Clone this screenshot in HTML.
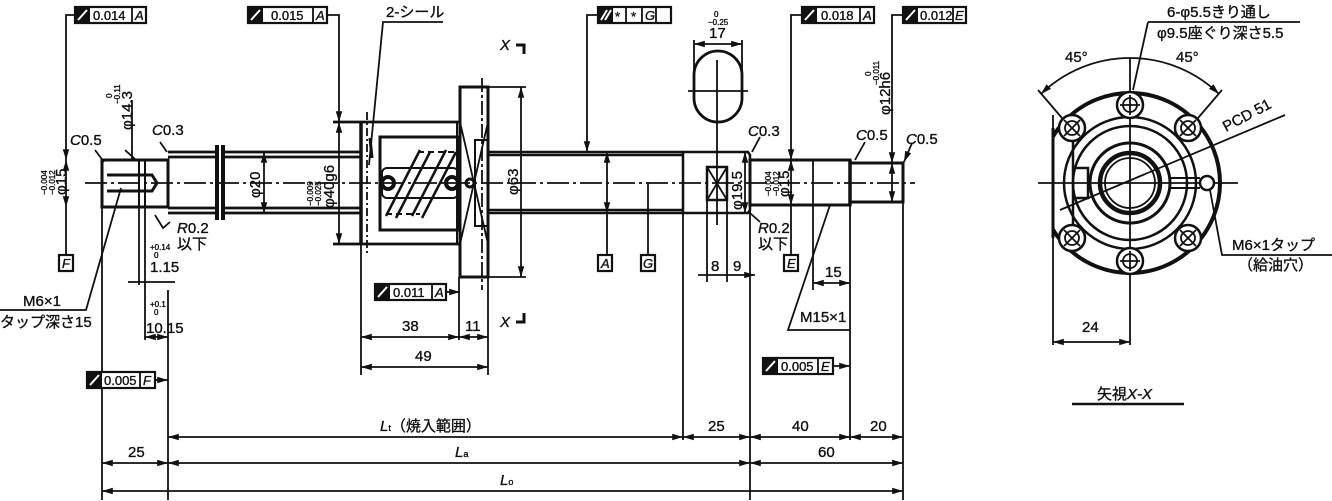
<!DOCTYPE html>
<html><head><meta charset="utf-8"><style>
body{margin:0;background:#fff}
svg{display:block}
text{font-family:"Liberation Sans","Noto Sans CJK JP",sans-serif;fill:#111;stroke:#111;stroke-width:0.35}
</style></head><body>
<svg width="1332" height="501" viewBox="0 0 1332 501" xmlns="http://www.w3.org/2000/svg">
<defs>
<marker id="a" viewBox="0 0 10 10" refX="10" refY="5" markerWidth="6" markerHeight="6" orient="auto-start-reverse"><path d="M0,2L10,5L0,8z" fill="#111"/></marker>
<clipPath id="cf"><rect x="1053" y="0" width="300" height="400"/></clipPath>
</defs>
<g stroke="#111" stroke-width="1.8" fill="none">
<line x1="85" y1="183" x2="915" y2="183" stroke-dasharray="22,4,3,4"/>
<rect x="102" y="160" width="66" height="47" stroke-width="3"/>
<line x1="139" y1="160" x2="139" y2="207" stroke-width="2"/>
<line x1="145" y1="160" x2="145" y2="207" stroke-width="2"/>
<path d="M107,175H152L157,183L152,191H107" stroke-width="3"/>
<path d="M168,152H216M168,157H216M168,208H216M168,213H216" stroke-width="2.8"/>
<path d="M224,152H361M224,157H361M224,208H361M224,213H361" stroke-width="2.8"/>
<path d="M216,145V220M218,145V220M222,145V220M224,145V220" stroke-width="2"/>
<path d="M333,122H460M333,244H460" stroke-width="2.8"/>
<line x1="361" y1="122" x2="361" y2="244" stroke-width="3.5"/>
<line x1="367" y1="112" x2="367" y2="255" stroke-dasharray="8,3,2,3"/>
<path d="M370,138L372,158" stroke-width="3"/>
<rect x="380" y="137" width="78" height="93" stroke-width="3"/>
<rect x="382" y="168" width="76" height="30" rx="5" stroke-width="2"/>
<line x1="457" y1="122" x2="457" y2="244" stroke-width="2"/>
<path d="M386,216L420,150M396,218L430,152M412,216L446,150M422,218L456,152" stroke-width="2.5"/>
<path d="M418,152H456M386,214H420" stroke-width="2" stroke-dasharray="6,4"/>
<circle cx="388" cy="183" r="6" stroke-width="4"/><circle cx="452" cy="183" r="6" stroke-width="4"/><circle cx="470" cy="183" r="4" stroke-width="3"/>
<rect x="460" y="87" width="28" height="190" stroke-width="3"/>
<path d="M460,122L488,244M460,244L488,122"/>
<path d="M475,140H488V226H475Z" stroke-width="2"/>
<line x1="482" y1="78" x2="482" y2="290" stroke-dasharray="14,3,3,3"/>
<line x1="488" y1="87" x2="526" y2="87"/><line x1="488" y1="277" x2="526" y2="277"/>
<line x1="521" y1="87" x2="521" y2="277" marker-start="url(#a)" marker-end="url(#a)"/>
<path d="M488,152H683M488,155H683M488,210H683M488,213H683" stroke-width="2.5"/>
<path d="M683,152H748L750,155V210L748,213H683Z" stroke-width="2.5"/>
<line x1="683" y1="152" x2="683" y2="440"/>
<rect x="707" y="167" width="20" height="33" stroke-width="2.5"/>
<path d="M707,167L727,200M727,167L707,200"/>
<line x1="717" y1="120" x2="717" y2="225"/>
<path d="M750,160H850V205H750Z" stroke-width="3"/>
<line x1="813" y1="160" x2="813" y2="290"/>
<line x1="850" y1="160" x2="850" y2="205" stroke-width="3.5"/>
<path d="M850,163H903V202H850Z" stroke-width="3"/>
<path d="M694,75A24,24 0 0 1 742,75V98A24,24 0 0 1 694,98Z" stroke-width="2.8"/>
<line x1="688" y1="91" x2="748" y2="91"/><line x1="717" y1="60" x2="717" y2="120"/>
<line x1="694" y1="40" x2="694" y2="70"/><line x1="742" y1="40" x2="742" y2="70"/>
<line x1="694" y1="44" x2="742" y2="44" marker-start="url(#a)" marker-end="url(#a)"/>
<path d="M75,15H66V160" marker-end="url(#a)"/>
<line x1="66" y1="160" x2="66" y2="207" marker-start="url(#a)" marker-end="url(#a)"/>
<line x1="66" y1="207" x2="66" y2="255"/>
<path d="M327,15H339V122" marker-end="url(#a)"/>
<line x1="339" y1="122" x2="339" y2="244" marker-start="url(#a)" marker-end="url(#a)"/>
<path d="M598,15H587V152" marker-end="url(#a)"/>
<line x1="607" y1="152" x2="607" y2="213" marker-start="url(#a)" marker-end="url(#a)"/>
<line x1="607" y1="213" x2="607" y2="255"/>
<line x1="648" y1="183" x2="648" y2="255"/>
<path d="M802,15H791V160" marker-end="url(#a)"/>
<line x1="791" y1="160" x2="791" y2="205" marker-start="url(#a)" marker-end="url(#a)"/>
<line x1="791" y1="205" x2="791" y2="255"/>
<path d="M903,15H892V163" marker-end="url(#a)"/>
<line x1="892" y1="163" x2="892" y2="202" marker-start="url(#a)" marker-end="url(#a)"/>
<line x1="264" y1="152" x2="264" y2="213" marker-start="url(#a)" marker-end="url(#a)"/>
<line x1="745" y1="152" x2="745" y2="213" marker-start="url(#a)" marker-end="url(#a)"/>
<line x1="446" y1="292" x2="460" y2="292" marker-end="url(#a)"/>
<line x1="833" y1="366" x2="850" y2="366" marker-end="url(#a)"/>
<line x1="155" y1="380" x2="168" y2="380" marker-end="url(#a)"/>
<path d="M443,22H383L369,165"/>
<path d="M0,310H86L121,188"/>
<path d="M850,330H788L830,205"/>
<path d="M95,150L104,162M125,150L136,160M160,142L167,152M132,100V160M760,137L752,152M865,142L855,160M912,143L904,162" marker-end="url(#a)"/>
<path d="M155,215L163,228L170,222M750,213L760,222"/>
<line x1="139" y1="207" x2="139" y2="285"/><line x1="145" y1="207" x2="145" y2="340"/>
<line x1="128" y1="282" x2="175" y2="282"/>
<line x1="168" y1="290" x2="168" y2="500"/>
<line x1="145" y1="337" x2="168" y2="337" marker-start="url(#a)" marker-end="url(#a)"/>
<line x1="102" y1="207" x2="102" y2="500"/>
<line x1="361" y1="244" x2="361" y2="375"/>
<line x1="459" y1="277" x2="459" y2="340"/><line x1="488" y1="277" x2="488" y2="375"/>
<line x1="361" y1="337" x2="459" y2="337" marker-start="url(#a)" marker-end="url(#a)"/>
<line x1="459" y1="337" x2="488" y2="337" marker-start="url(#a)" marker-end="url(#a)"/>
<line x1="361" y1="367" x2="488" y2="367" marker-start="url(#a)" marker-end="url(#a)"/>
<line x1="707" y1="200" x2="707" y2="282"/><line x1="727" y1="200" x2="727" y2="282"/>
<line x1="698" y1="275" x2="755" y2="275" marker-end="url(#a)"/>
<line x1="750" y1="205" x2="750" y2="500"/><line x1="850" y1="205" x2="850" y2="440"/>
<line x1="903" y1="202" x2="903" y2="500"/>
<line x1="813" y1="283" x2="850" y2="283" marker-start="url(#a)" marker-end="url(#a)"/>
<line x1="168" y1="437" x2="683" y2="437" marker-start="url(#a)" marker-end="url(#a)"/>
<line x1="683" y1="437" x2="750" y2="437" marker-start="url(#a)" marker-end="url(#a)"/>
<line x1="750" y1="437" x2="850" y2="437" marker-start="url(#a)" marker-end="url(#a)"/>
<line x1="850" y1="437" x2="903" y2="437" marker-start="url(#a)" marker-end="url(#a)"/>
<line x1="102" y1="463" x2="168" y2="463" marker-start="url(#a)" marker-end="url(#a)"/>
<line x1="168" y1="463" x2="750" y2="463" marker-start="url(#a)" marker-end="url(#a)"/>
<line x1="750" y1="463" x2="903" y2="463" marker-start="url(#a)" marker-end="url(#a)"/>
<line x1="102" y1="491" x2="903" y2="491" marker-start="url(#a)" marker-end="url(#a)"/>
<path d="M516,45H524V54M516,322H524V313" stroke-width="3"/>
<circle cx="1130" cy="183" r="90" stroke-width="4" clip-path="url(#cf)"/>
<path d="M1053,128V238" stroke-width="3"/>
<circle cx="1130" cy="183" r="66" stroke-width="2.5"/>
<circle cx="1130" cy="183" r="57" stroke-width="2.5" clip-path="url(#cf)"/>
<path d="M1073,140V226M1075,168H1088V198H1075" stroke-width="2.5"/>
<circle cx="1130" cy="183" r="40" stroke-width="3"/>
<circle cx="1130" cy="183" r="30" stroke-width="4.5"/>
<circle cx="1130" cy="183" r="25" stroke-width="1.8"/>
<line x1="1038" y1="183" x2="1238" y2="183"/>
<path d="M1170,178H1200M1170,188H1200" stroke-width="2"/>
<line x1="1130" y1="58" x2="1130" y2="345"/>
<line x1="1053" y1="115" x2="1053" y2="345"/>
<line x1="1053" y1="342" x2="1130" y2="342" marker-start="url(#a)" marker-end="url(#a)"/>
<line x1="1060" y1="210" x2="1285" y2="115"/>
<path d="M1041,94A128,128 0 0 1 1219,94" marker-start="url(#a)" marker-end="url(#a)"/>
<path d="M1038,90L1062,118M1222,90L1198,118"/>
<path d="M1148,22L1133,90" /><line x1="1148" y1="22" x2="1300" y2="22"/>
<path d="M1210,190L1222,255H1332"/>
<line x1="1072" y1="404" x2="1184" y2="404" stroke-width="2.5"/>
</g>
<g stroke="#111" stroke-width="2.5" fill="#fff">
<circle cx="1130" cy="105" r="13"/><circle cx="1130" cy="261" r="13"/>
<circle cx="1072" cy="128" r="13"/><circle cx="1188" cy="128" r="13"/>
<circle cx="1072" cy="238" r="13"/><circle cx="1188" cy="238" r="13"/>
<circle cx="1207" cy="183" r="7"/>
</g>
<g stroke="#111" stroke-width="1.8" fill="none">
<circle cx="1130" cy="105" r="7"/><circle cx="1130" cy="261" r="7"/>
<circle cx="1072" cy="128" r="7"/><circle cx="1188" cy="128" r="7"/>
<circle cx="1072" cy="238" r="7"/><circle cx="1188" cy="238" r="7"/>
<path d="M1120,105H1140M1130,95V115M1120,261H1140M1130,251V271M1064,120L1080,136M1064,136L1080,120M1180,120L1196,136M1180,136L1196,120M1064,230L1080,246M1064,246L1080,230M1180,230L1196,246M1180,246L1196,230"/>
</g>
<g stroke="#111" stroke-width="2.2" fill="#fff">
<rect x="75" y="7" width="71" height="16"/><rect x="248" y="7" width="79" height="16"/>
<rect x="598" y="7" width="73" height="16"/><rect x="802" y="7" width="72" height="16"/>
<rect x="903" y="7" width="63" height="16"/><rect x="375" y="284" width="71" height="16"/>
<rect x="763" y="358" width="70" height="16"/><rect x="87" y="372" width="68" height="16"/>
<rect x="59" y="255" width="14" height="16"/><rect x="598" y="255" width="14" height="16"/>
<rect x="641" y="255" width="14" height="16"/><rect x="784" y="255" width="14" height="16"/>
</g>
<g fill="#111">
<rect x="75" y="7" width="15" height="16"/><rect x="248" y="7" width="15" height="16"/><rect x="598" y="7" width="15" height="16"/>
<rect x="802" y="7" width="15" height="16"/><rect x="903" y="7" width="15" height="16"/><rect x="375" y="284" width="15" height="16"/>
<rect x="763" y="358" width="15" height="16"/><rect x="87" y="372" width="15" height="16"/>
</g>
<g stroke="#fff" stroke-width="2">
<path d="M78,20L87,10M251,20L260,10M601,20L607,10M605,20L611,10M805,20L814,10M906,20L915,10M378,297L387,287M766,371L775,361M90,385L99,375"/>
</g>
<g stroke="#111" stroke-width="1.8">
<path d="M132,7V23M313,7V23M626,7V23M642,7V23M656,7V23M860,7V23M953,7V23M432,284V300M818,358V374M140,372V388"/>
</g>
<g font-size="13">
<text x="93" y="20">0.014</text><text x="135" y="20" font-style="italic">A</text>
<text x="271" y="20">0.015</text><text x="316" y="20" font-style="italic">A</text>
<text x="615" y="21">*</text><text x="631" y="21">*</text><text x="645" y="20" font-style="italic">G</text>
<text x="821" y="20">0.018</text><text x="863" y="20" font-style="italic">A</text>
<text x="920" y="20">0.012</text><text x="955" y="20" font-style="italic">E</text>
<text x="393" y="297">0.011</text><text x="435" y="297" font-style="italic">A</text>
<text x="781" y="371">0.005</text><text x="821" y="371" font-style="italic">E</text>
<text x="104" y="385">0.005</text><text x="143" y="385" font-style="italic">F</text>
<text x="62" y="268" font-style="italic">F</text><text x="601" y="268" font-style="italic">A</text>
<text x="643" y="268" font-style="italic">G</text><text x="787" y="268" font-style="italic">E</text>
</g>
<g font-size="15">
<text x="386" y="17">2-シール</text>
<text x="70" y="145"><tspan font-style="italic">C</tspan>0.5</text>
<text x="152" y="135"><tspan font-style="italic">C</tspan>0.3</text>
<text x="748" y="136"><tspan font-style="italic">C</tspan>0.3</text>
<text x="856" y="140"><tspan font-style="italic">C</tspan>0.5</text>
<text x="906" y="144"><tspan font-style="italic">C</tspan>0.5</text>
<text x="177" y="233"><tspan font-style="italic">R</tspan>0.2</text><text x="177" y="249">以下</text>
<text x="758" y="233"><tspan font-style="italic">R</tspan>0.2</text><text x="758" y="249">以下</text>
<text x="150" y="272">1.15</text><text x="146" y="333">10.15</text>
<text x="23" y="306">M6×1</text><text x="0" y="327">タップ深さ15</text>
<text x="402" y="331">38</text><text x="465" y="331">11</text><text x="415" y="361">49</text>
<text x="711" y="271">8</text><text x="733" y="271">9</text><text x="825" y="277">15</text>
<text x="800" y="322">M15×1</text>
<text x="709" y="38">17</text>
<text x="128" y="457">25</text><text x="380" y="431"><tspan font-style="italic">L</tspan><tspan font-size="9">t</tspan>（焼入範囲）</text>
<text x="708" y="431">25</text><text x="792" y="431">40</text><text x="870" y="431">20</text>
<text x="455" y="457"><tspan font-style="italic">L</tspan><tspan font-size="9">a</tspan></text><text x="818" y="457">60</text>
<text x="500" y="485"><tspan font-style="italic">L</tspan><tspan font-size="9">o</tspan></text>
<text x="500" y="50" font-style="italic">X</text><text x="500" y="327" font-style="italic">X</text>
<text x="1167" y="17">6-φ5.5きり通し</text><text x="1157" y="38">φ9.5座ぐり深さ5.5</text>
<text x="1065" y="62">45°</text><text x="1176" y="62">45°</text>
<text x="1226" y="132" transform="rotate(-28 1226 132)">PCD 51</text>
<text x="1232" y="250">M6×1タップ</text><text x="1238" y="270">（給油穴）</text>
<text x="1082" y="332">24</text>
<text x="1097" y="399">矢視<tspan font-style="italic">X-X</tspan></text>
</g>
<g font-size="15">
<text transform="translate(66,195) rotate(-90)">φ15</text>
<text transform="translate(132,130) rotate(-90)">φ14.3</text>
<text transform="translate(260,198) rotate(-90)">φ20</text>
<text transform="translate(334,208) rotate(-90)">φ40g6</text>
<text transform="translate(518,195) rotate(-90)">φ63</text>
<text transform="translate(742,210) rotate(-90)">φ19.5</text>
<text transform="translate(789,197) rotate(-90)">φ15</text>
<text transform="translate(890,115) rotate(-90)">φ12h6</text>
</g>
<g font-size="8">
<text transform="translate(47,195) rotate(-90)">−0.004</text><text transform="translate(55,195) rotate(-90)">−0.012</text>
<text transform="translate(112,98) rotate(-90)">0</text><text transform="translate(120,104) rotate(-90)">−0.11</text>
<text transform="translate(313,206) rotate(-90)">−0.009</text><text transform="translate(321,206) rotate(-90)">−0.025</text>
<text transform="translate(771,196) rotate(-90)">−0.004</text><text transform="translate(779,196) rotate(-90)">−0.012</text>
<text transform="translate(871,76) rotate(-90)">0</text><text transform="translate(879,85) rotate(-90)">−0.011</text>
<text x="714" y="17">0</text><text x="708" y="25">−0.25</text>
<text x="150" y="250">+0.14</text><text x="154" y="258">0</text>
<text x="150" y="307">+0.1</text><text x="154" y="315">0</text>
</g>
</svg>
</body></html>
